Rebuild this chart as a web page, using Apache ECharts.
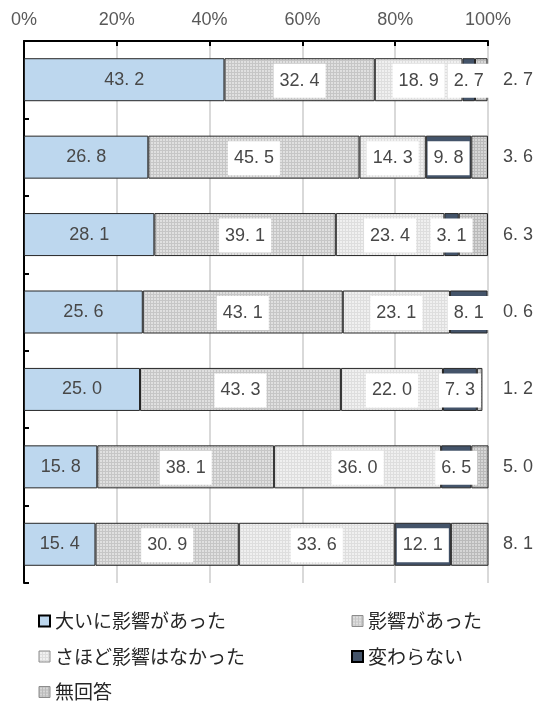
<!DOCTYPE html>
<html>
<head>
<meta charset="utf-8">
<script src="https://cdn.jsdelivr.net/npm/echarts@6/dist/echarts.min.js"></script>
<style>
  html, body { margin: 0; padding: 0; background: #ffffff; }
  #chart { width: 547px; height: 704px; }
</style>
</head>
<body>
<div id="chart"></div>
<script>
// Survey rows, top to bottom
const rows = ['1', '2', '3', '4', '5', '6', '7'];
const seriesNames = ['大いに影響があった', '影響があった', 'さほど影響はなかった', '変わらない', '無回答'];

// Shares (%) per answer
const greatlyAffected = [43.2, 26.8, 28.1, 25.6, 25.0, 15.8, 15.4];
const affected        = [32.4, 45.5, 39.1, 43.1, 43.3, 38.1, 30.9];
const notMuch         = [18.9, 14.3, 23.4, 23.1, 22.0, 36.0, 33.6];
const unchanged       = [2.7, 9.8, 3.1, 8.1, 7.3, 6.5, 12.1];
const noAnswer        = [2.7, 3.6, 6.3, 0.6, 1.2, 5.0, 8.1];

// Percent axis
const axisMin = 0, axisMax = 100, axisStep = 20;

const NUM_FONT = '"Liberation Sans Narrow", "Liberation Sans", sans-serif';
const JP_FONT = '"Noto Sans CJK JP", sans-serif';

// Small tiled textures: light 2x2 squares on a darker 1px grid
function dots(line, square) {
  const c = document.createElement('canvas');
  c.width = 3; c.height = 3;
  const g = c.getContext('2d');
  g.fillStyle = line; g.fillRect(0, 0, 3, 3);
  g.fillStyle = square; g.fillRect(1, 1, 2, 2);
  return { image: c, repeat: 'repeat' };
}

const fmt = v => Number(v).toFixed(1).replace('.', '. ');

const boxedLabel = {
  show: true,
  position: 'inside',
  formatter: p => fmt(p.value),
  color: '#484848',
  fontFamily: NUM_FONT,
  fontSize: 18,
  lineHeight: 20,
  backgroundColor: '#ffffff',
  padding: [7, 6, 7, 6],
  offset: [0, 1]
};

const border = { borderColor: '#262626', borderWidth: 1 };

const fills = [
  '#bdd7ee',
  dots('#c6c6c6', '#e0e0e0'),
  dots('#dedede', '#f0f0f0'),
  '#44546a',
  dots('#bababa', '#d6d6d6')
];

const values = [greatlyAffected, affected, notMuch, unchanged, noAnswer];

const series = values.map((arr, i) => ({
  name: seriesNames[i],
  type: 'bar',
  stack: 'total',
  barWidth: 43,
  data: arr,
  itemStyle: Object.assign({ color: fills[i] }, border),
  label: i === 0
    ? { show: true, position: 'inside', formatter: p => fmt(p.value), color: '#484848', fontFamily: NUM_FONT, fontSize: 18 }
    : (i === 4 ? { show: false } : boxedLabel),
  emphasis: { disabled: true }
}));

const legendText = { color: '#262626', fontFamily: JP_FONT, fontSize: 19, lineHeight: 20 };
const iconStyle = i => (i === 0 || i === 3)
  ? { borderColor: '#000000', borderWidth: 2 }
  : { borderColor: '#8c8c8c', borderWidth: 1 };

const legendBase = {
  orient: 'vertical', top: 611, height: 110, padding: 0,
  itemWidth: 11, itemHeight: 11, itemGap: 15.5,
  icon: 'rect', textStyle: legendText, selectedMode: false
};

const chart = echarts.init(document.getElementById('chart'), null, { renderer: 'canvas' });
chart.setOption({
  animation: false,
  backgroundColor: '#ffffff',
  grid: { left: 24, right: 59, top: 41, bottom: 121, containLabel: false },
  legend: [
    Object.assign({}, legendBase, {
      left: 38,
      data: [0, 2, 4].map(i => ({ name: seriesNames[i], itemStyle: iconStyle(i) }))
    }),
    Object.assign({}, legendBase, {
      left: 351,
      data: [1, 3].map(i => ({ name: seriesNames[i], itemStyle: iconStyle(i) }))
    })
  ],
  xAxis: {
    type: 'value',
    position: 'top',
    min: axisMin, max: axisMax, interval: axisStep,
    axisLine: { show: true, lineStyle: { color: '#000000', width: 2 } },
    axisTick: { show: true, inside: true, length: 5, lineStyle: { color: '#000000', width: 2 } },
    axisLabel: { formatter: '{value}%', color: '#595959', fontFamily: NUM_FONT, fontSize: 18, margin: 12 },
    splitLine: { show: true, lineStyle: { color: '#d9d9d9', width: 2 } }
  },
  yAxis: [
    {
      type: 'category',
      data: rows,
      inverse: true,
      axisLine: { show: true, lineStyle: { color: '#000000', width: 2 } },
      axisTick: { show: true, inside: true, length: 5, lineStyle: { color: '#000000', width: 2 } },
      axisLabel: { show: false },
      splitLine: { show: false }
    },
    {
      type: 'category',
      data: noAnswer.map(fmt),
      inverse: true,
      position: 'right',
      axisLine: { show: false },
      axisTick: { show: false },
      axisLabel: { show: true, color: '#484848', fontFamily: NUM_FONT, fontSize: 18, margin: 15 },
      splitLine: { show: false }
    }
  ],
  series: series
});
</script>
</body>
</html>
